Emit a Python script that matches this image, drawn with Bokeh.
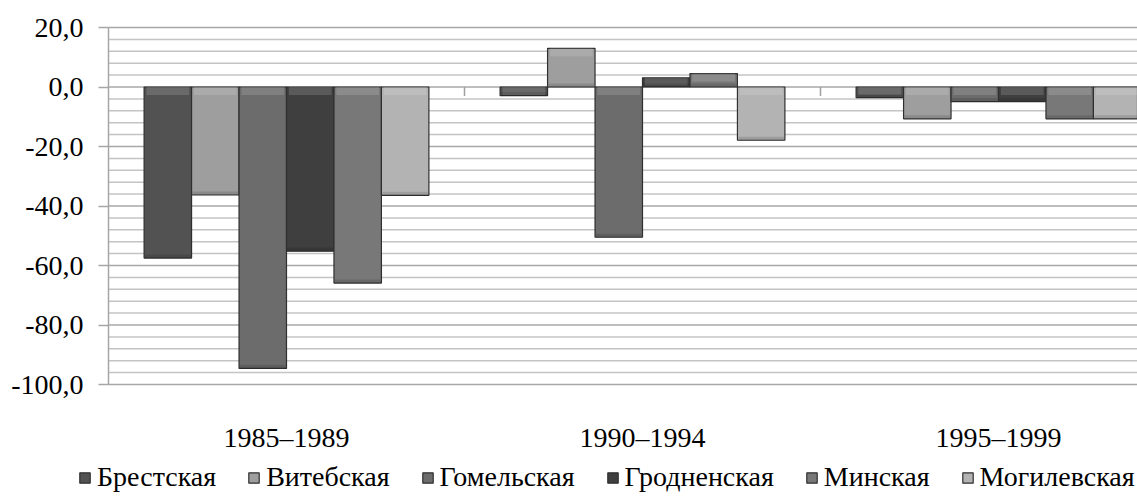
from bokeh.plotting import figure
from bokeh.models import ColumnDataSource, FixedTicker, Legend, LegendItem, Range1d
from bokeh.embed import file_html
from bokeh.resources import INLINE

# ---- data ----
periods = ["1985–1989", "1990–1994", "1995–1999"]
regions = ["Брестская", "Витебская", "Гомельская", "Гродненская", "Минская", "Могилевская"]
brest = [-57.5, -2.9, -3.6]
vitebsk = [-36.3, 13.0, -10.7]
gomel = [-94.6, -50.5, -4.9]
grodno = [-55.2, 3.1, -4.9]
minsk = [-65.9, 4.5, -10.7]
mogilev = [-36.4, -17.9, -10.7]
series = [brest, vitebsk, gomel, grodno, minsk, mogilev]
y_ticks = [20, 0, -20, -40, -60, -80, -100]
y_minor = [v for v in range(-100, 21, 4) if v not in y_ticks]

# ---- style / layout ----
colors = ["#525252", "#9e9e9e", "#6c6c6c", "#3f3f3f", "#787878", "#b3b3b3"]
edge = "#2f2f2f"
FONT = "Liberation Serif"
FS = "28px"
GRID = "#c4c4c4"
GRID_MAJOR = "#a8a8a8"
W, H = 1137, 497
LEFT, TOP, PLOT_H, CAT_PX = 108, 27, 357, 356
BEVEL_PX = 8
Y_MIN, Y_MAX = min(y_ticks), max(y_ticks)
px_per_unit = PLOT_H / (Y_MAX - Y_MIN)

n_cat = len(periods)
n_ser = len(series)
group_w = 0.8
bw = group_w / n_ser

x_end = (W - LEFT) / CAT_PX
p = figure(
    width=W, height=H, min_border=0,
    x_range=Range1d(-LEFT / CAT_PX, x_end),
    y_range=Range1d(Y_MIN - (H - TOP - PLOT_H) / px_per_unit, Y_MAX + TOP / px_per_unit),
    output_backend="svg", toolbar_location=None,
)
p.outline_line_color = None
p.background_fill_color = "white"
p.grid.visible = False

# gridlines (only across the plotting area, right of the value axis)
p.segment(x0=[0] * len(y_minor), y0=y_minor, x1=[x_end] * len(y_minor), y1=y_minor,
          line_color=GRID, line_width=1.5)
p.segment(x0=[0] * len(y_ticks), y0=y_ticks, x1=[x_end] * len(y_ticks), y1=y_ticks,
          line_color=GRID_MAJOR, line_width=1.5)

# category tick marks on the zero line
bounds = [i + 1 for i in range(n_cat - 1)]
p.segment(x0=bounds, y0=[0] * len(bounds), x1=bounds, y1=[-3] * len(bounds),
          line_color="#a0a0a0", line_width=1.5)

bevel = BEVEL_PX / px_per_unit
items = []
for j, (name, vals, col) in enumerate(zip(regions, series, colors)):
    xs = [i + (1 - group_w) / 2 + (j + 0.5) * bw for i in range(n_cat)]
    src = ColumnDataSource(dict(x=xs, top=vals))
    r = p.vbar(x="x", top="top", bottom=0, width=bw, source=src,
               fill_color=col, line_color=edge, line_width=1.2)
    items.append(LegendItem(label=name, renderers=[r]))
    # bevel highlight at the upper edge of each bar
    b_top = [max(v, 0) for v in vals]
    b_bot = [t - min(abs(v), bevel) for t, v in zip(b_top, vals)]
    p.vbar(x=xs, top=b_top, bottom=b_bot, width=bw * 0.9,
           fill_color="white", fill_alpha=0.14, line_color=None)
    # darker lower edge
    d_bot = [min(v, 0) for v in vals]
    d_top = [b + min(abs(v), bevel) * 0.45 for b, v in zip(d_bot, vals)]
    p.vbar(x=xs, top=d_top, bottom=d_bot, width=bw * 0.96,
           fill_color="black", fill_alpha=0.12, line_color=None)

# y axis at x = 0
p.yaxis.fixed_location = 0
p.yaxis.bounds = (Y_MIN, Y_MAX)
p.yaxis.ticker = FixedTicker(ticks=y_ticks)
p.yaxis.major_label_overrides = {v: f"{v:.1f}".replace(".", ",") for v in y_ticks}
p.yaxis.major_label_text_font = FONT
p.yaxis.major_label_text_font_size = FS
p.yaxis.major_label_text_color = "black"
p.yaxis.axis_line_color = "#a6a6a6"
p.yaxis.axis_line_width = 1.5
p.yaxis.major_tick_line_color = "#a6a6a6"
p.yaxis.major_tick_line_width = 1.5
p.yaxis.major_tick_out = 10
p.yaxis.major_tick_in = 0
p.yaxis.minor_tick_out = 0
p.yaxis.minor_tick_in = 0
p.yaxis.major_label_standoff = 15

# category labels under the plotting area
p.xaxis.fixed_location = Y_MIN
p.xaxis.ticker = FixedTicker(ticks=[i + 0.5 for i in range(n_cat)])
p.xaxis.major_label_overrides = {i + 0.5: lab for i, lab in enumerate(periods)}
p.xaxis.major_label_text_font = FONT
p.xaxis.major_label_text_font_size = FS
p.xaxis.major_label_text_color = "black"
p.xaxis.axis_line_color = None
p.xaxis.major_tick_line_color = None
p.xaxis.minor_tick_line_color = None
p.xaxis.major_tick_out = 0
p.xaxis.major_label_standoff = 37

legend = Legend(items=items, orientation="horizontal", location=(78, 4),
                label_text_font=FONT, label_text_font_size=FS, label_text_color="black",
                glyph_width=13, glyph_height=13, label_standoff=6,
                spacing=31, padding=0, margin=0,
                border_line_color=None, background_fill_alpha=0)
p.add_layout(legend, "center")

open("out.html", "w").write(file_html(p, INLINE))
